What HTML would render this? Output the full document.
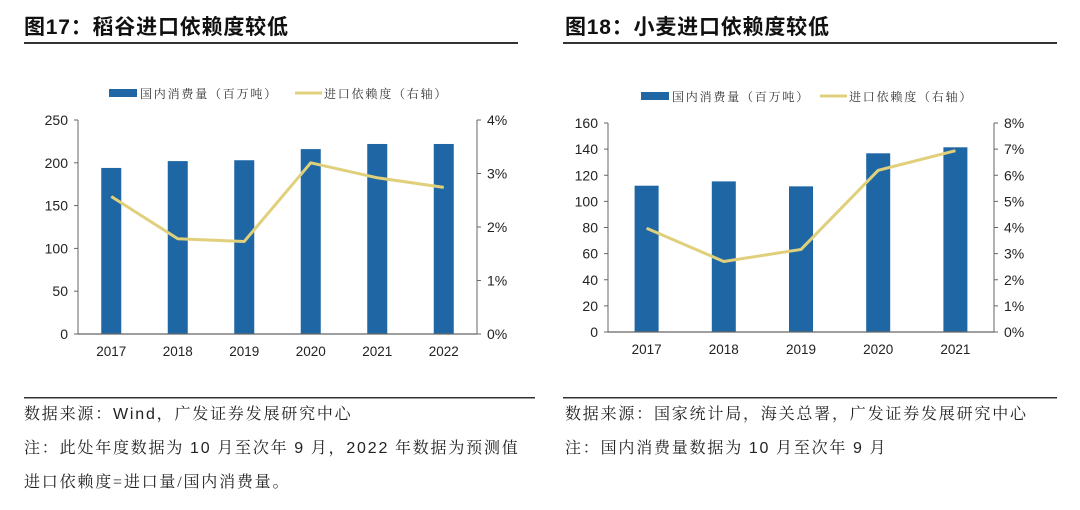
<!DOCTYPE html>
<html><head><meta charset="utf-8">
<style>
html,body{margin:0;padding:0;background:#fff;}
svg{display:block;}
.t{font-family:"Liberation Sans","Noto Sans CJK SC",sans-serif;}
.s{font-family:"Liberation Serif","Noto Serif CJK SC",serif;}
</style></head>
<body>
<svg id="root" width="1080" height="510" viewBox="0 0 1080 510" xmlns="http://www.w3.org/2000/svg">
<g>
<text class="t" x="24" y="34" font-size="21" font-weight="bold" letter-spacing="0.8" fill="#111">图17：稻谷进口依赖度较低</text>
<rect x="24" y="42" width="494" height="2" fill="#333"/>
</g>
<g>
<text class="t" x="565" y="34" font-size="21" font-weight="bold" letter-spacing="0.8" fill="#111">图18：小麦进口依赖度较低</text>
<rect x="563" y="42" width="494" height="2" fill="#333"/>
</g>
<g id="c1"></g>
<g id="c2"></g>
<g>
<rect x="24" y="397" width="511" height="1.5" fill="#333"/>
<text class="s" x="24" y="419" font-size="16" letter-spacing="1.8" fill="#222">数据来源：<tspan class="t">Wind</tspan>，广发证券发展研究中心</text>
<text class="s" x="24" y="453" font-size="16" letter-spacing="1.8" fill="#222">注：此处年度数据为 <tspan class="t">10</tspan> 月至次年 <tspan class="t">9</tspan> 月，<tspan class="t">2022</tspan> 年数据为预测值</text>
<text class="s" x="24" y="487" font-size="16" letter-spacing="1.8" fill="#222">进口依赖度=进口量/国内消费量。</text>
</g>
<g>
<rect x="563" y="397" width="494" height="1.5" fill="#333"/>
<text class="s" x="565" y="419" font-size="16" letter-spacing="1.8" fill="#222">数据来源：国家统计局，海关总署，广发证券发展研究中心</text>
<text class="s" x="565" y="453" font-size="16" letter-spacing="1.8" fill="#222">注：国内消费量数据为 <tspan class="t">10</tspan> 月至次年 <tspan class="t">9</tspan> 月</text>
</g>
</svg>
<script>
// Chart 17 data (rice)
const riceYears = ["2017","2018","2019","2020","2021","2022"];
const riceConsumption = [194, 202, 203, 216, 222, 222];
const riceImportRatio = [2.57, 1.78, 1.73, 3.20, 2.92, 2.74];
const riceLeftTicks = [0, 50, 100, 150, 200, 250];
const riceRightTicks = [0, 1, 2, 3, 4];
// Chart 18 data (wheat)
const wheatYears = ["2017","2018","2019","2020","2021"];
const wheatConsumption = [112, 115.3, 111.5, 136.8, 141.4];
const wheatImportRatio = [3.97, 2.70, 3.16, 6.19, 6.94];
const wheatLeftTicks = [0, 20, 40, 60, 80, 100, 120, 140, 160];
const wheatRightTicks = [0, 1, 2, 3, 4, 5, 6, 7, 8];

const NS = "http://www.w3.org/2000/svg";
function mk(parent, tag, attrs, text) {
  const e = document.createElementNS(NS, tag);
  for (const k in attrs) e.setAttribute(k, attrs[k]);
  if (text !== undefined) e.textContent = text;
  parent.appendChild(e);
  return e;
}
function draw(g, o) {
  const n = o.cats.length;
  const bw = (o.x1 - o.x0) / n;
  const yL = v => o.y1 - (v / o.lMax) * (o.y1 - o.y0);
  const yR = v => o.y1 - (v / o.rMax) * (o.y1 - o.y0);
  const xc = i => o.x0 + bw * (i + 0.5);
  const lb = mk(g, "rect", {x: o.legX, y: o.legY - 4, width: 28, height: 8, fill: "#1f67a4"});
  
  
  const lt = mk(g, "text", {x: o.legX + 31, y: o.legY + 5, "font-size": 12, fill: "#333", "class": "s", "letter-spacing": "1.8"}, "国内消费量（百万吨）");
  
  
  const ll = mk(g, "rect", {x: o.legX2, y: o.legY - 1.5, width: 27, height: 3, fill: "#e0d07c"});
  
  
  const lt2 = mk(g, "text", {x: o.legX2 + 29, y: o.legY + 5, "font-size": 12, fill: "#333", "class": "s", "letter-spacing": "1.8"}, "进口依赖度（右轴）");
  
  
  o.vals.forEach((v, i) => {
    const r = mk(g, "rect", {x: xc(i) - o.barW / 2, y: yL(v), width: o.barW, height: o.y1 - yL(v), fill: "#1f67a4"});
    
    
  });
  const la = mk(g, "line", {x1: o.x0, y1: o.y0, x2: o.x0, y2: o.y1, stroke: "#666", "stroke-width": 1});
  
  
  const ra = mk(g, "line", {x1: o.x1, y1: o.y0, x2: o.x1, y2: o.y1, stroke: "#666", "stroke-width": 1});
  
  
  const xa = mk(g, "line", {x1: o.x0, y1: o.y1, x2: o.x1, y2: o.y1, stroke: "#666", "stroke-width": 1.2});
  
  
  o.lTicks.forEach(t => {
    mk(g, "line", {x1: o.x0 - 4, y1: yL(t), x2: o.x0, y2: yL(t), stroke: "#666"});
    const tx = mk(g, "text", {x: o.x0 - 10, y: yL(t) + 5, "font-size": 14, fill: "#222", "text-anchor": "end", "class": "t"}, String(t));
    
    
  });
  o.rTicks.forEach(t => {
    mk(g, "line", {x1: o.x1, y1: yR(t), x2: o.x1 + 4, y2: yR(t), stroke: "#666"});
    const tx = mk(g, "text", {x: o.x1 + 10, y: yR(t) + 5, "font-size": 14, fill: "#222", "class": "t"}, t + "%");
    
    
  });
  o.cats.forEach((c, i) => {
    const tx = mk(g, "text", {x: xc(i), y: o.y1 + 22, "font-size": 13.5, fill: "#222", "text-anchor": "middle", "class": "t"}, c);
    
    
  });
  const pts = o.line.map((v, i) => xc(i) + "," + yR(v)).join(" ");
  const pl = mk(g, "polyline", {points: pts, fill: "none", stroke: "#e0d07c", "stroke-width": 3, "stroke-linejoin": "round"});
  
  
}
draw(document.getElementById("c1"), {
  cats: riceYears, vals: riceConsumption, line: riceImportRatio,
  lTicks: riceLeftTicks, rTicks: riceRightTicks, lMax: 250, rMax: 4,
  x0: 78, x1: 477, y0: 120, y1: 334, barW: 20, legX: 109, legX2: 295, legY: 93
});
draw(document.getElementById("c2"), {
  cats: wheatYears, vals: wheatConsumption, line: wheatImportRatio,
  lTicks: wheatLeftTicks, rTicks: wheatRightTicks, lMax: 160, rMax: 8,
  x0: 608, x1: 994, y0: 123, y1: 332, barW: 24, legX: 641, legX2: 820, legY: 96
});
</script>
</body></html>
